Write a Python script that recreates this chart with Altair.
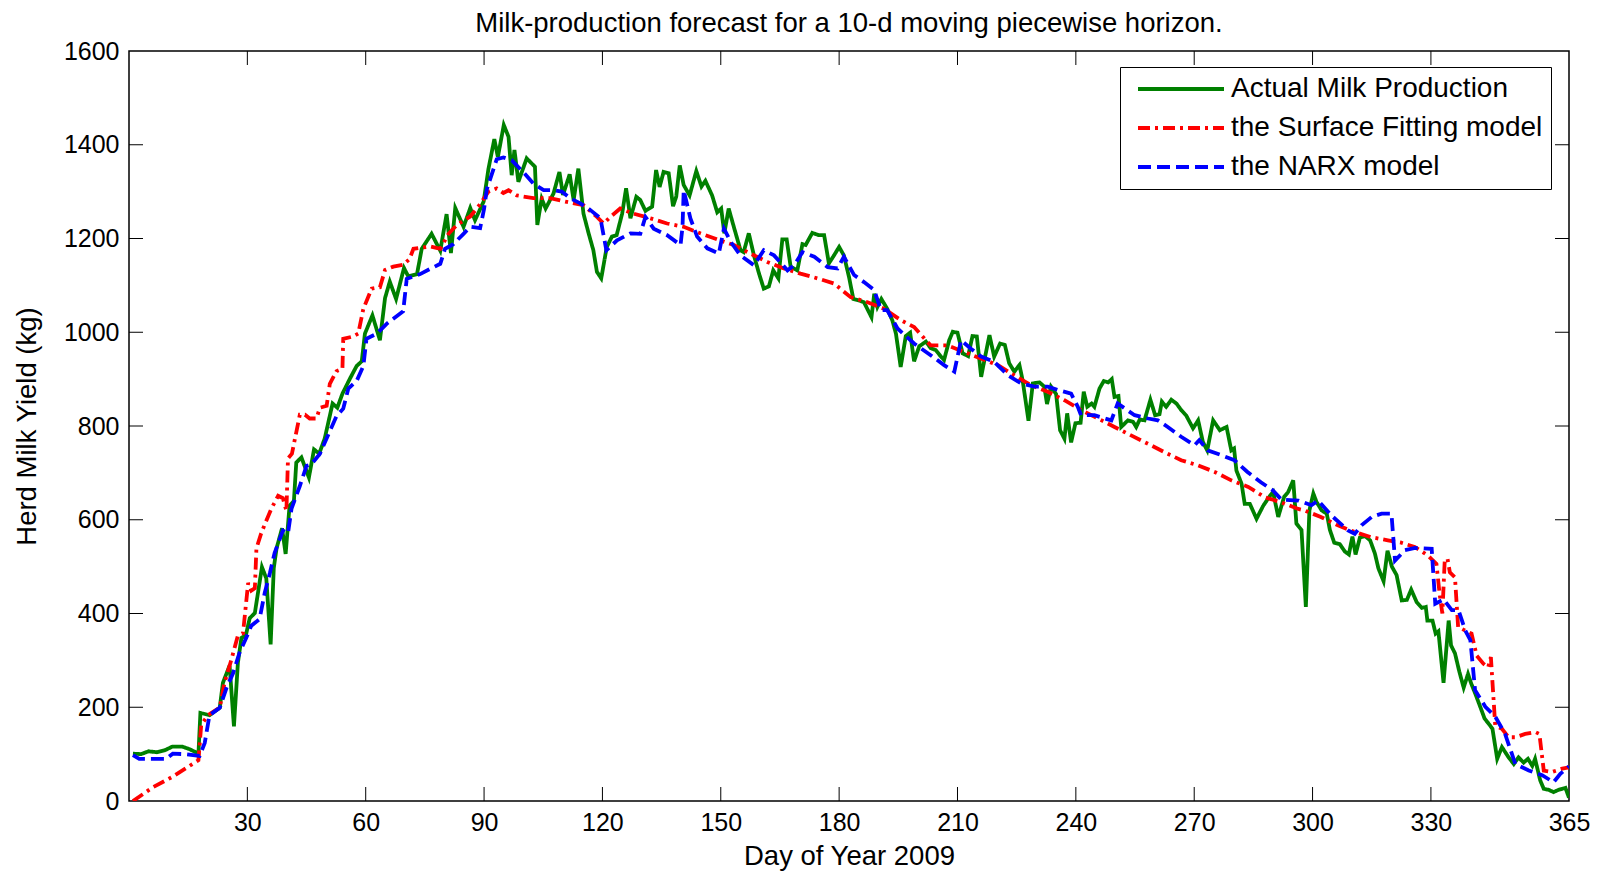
import altair as alt
import pandas as pd

SERIES = ["Actual Milk Production", "the Surface Fitting model", "the NARX model"]
COLORS = ["#008000", "#FF0000", "#0000FF"]
DASHES = [[1, 0], [12, 5, 3, 5], [13, 6]]

ACTUAL_DAY = [1, 3, 5, 7, 9, 11, 13.5, 15.5, 17.6, 18.1, 20.4, 23, 23.8, 25.5, 26.6, 27.6, 28.5, 29.6, 30.6, 31.9,
              33.7, 34.8, 35.9, 36.7, 37.4, 38.8, 39.7, 40.7, 41.8, 42.4, 43.7, 45.6, 46.9, 48.2, 49.6, 51.6, 52.8,
              54.1, 56, 57.7, 59, 59.8, 61.7, 63.6, 64.9, 66.1, 67.7, 69.7, 70.8, 73, 74.2, 76.7, 78.9, 80.5, 81.6,
              82.7, 84.8, 86.5, 87.7, 89.9, 91.1, 92.6, 93.5, 95, 96.2, 97, 97.7, 98.7, 100.8, 102.9, 103.5, 104.6,
              105.6, 107.6, 109.1, 110, 111.7, 112.7, 113.9, 115.2, 116.5, 117.7, 118.6, 119.7, 121.1, 122.4, 123.6,
              125, 126, 127.1, 128.6, 129.6, 130.9, 132.6, 133.6, 134.5, 135.5, 136.8, 137.9, 138.7, 139.6, 140.6,
              142.1, 143.8, 145.1, 146.1, 147.8, 149.1, 150.1, 150.9, 152, 153.3, 155, 155.8, 157.1, 158.4, 159.7,
              160.9, 162.2, 163.3, 164.6, 165.6, 166.7, 167.7, 169.4, 170.7, 171.5, 173.2, 174.9, 176.2, 177.4,
              178.7, 180, 181.2, 182.5, 183.6, 185, 186.3, 188.2, 188.9, 189.7, 190.7, 192.2, 193.5, 194.4, 195.6,
              196.9, 198, 199, 200.3, 202, 203.2, 204.5, 205.8, 206.6, 207.9, 208.8, 210, 211.3, 212.7, 213.8, 214.9,
              216, 217, 218.1, 219.3, 220.8, 222, 223.1, 224.4, 225.7, 226.5, 228, 229.1, 230.8, 232, 232.7, 233.7,
              235, 236, 237.1, 237.8, 238.8, 239.9, 241.2, 242, 242.9, 244, 244.7, 246, 247.1, 248.2, 249.1, 249.8,
              250.8, 251.5, 253.2, 254.5, 255.3, 256.2, 257.4, 258.9, 260.1, 261.2, 261.8, 262.9, 264.2, 265.5,
              266.7, 268, 269.7, 271, 272.2, 273.3, 274.8, 276.5, 278.2, 279.4, 280.1, 280.7, 282, 282.8, 284.1,
              285.8, 287.5, 289.2, 290, 291.3, 292.8, 293.8, 295.1, 295.9, 297.2, 298.3, 299.2, 300.2, 301, 302.3,
              303.6, 304.4, 305.5, 306.9, 308.2, 309.2, 310.1, 310.9, 312, 313.3, 314.6, 315.8, 316.7, 318, 319,
              320.1, 321.3, 322.6, 323.9, 325, 326.4, 327.7, 328.7, 329.1, 330.4, 331.2, 331.9, 333.2, 334.5, 335.1,
              336.1, 337.2, 338.3, 339.4, 340.2, 341.2, 342.5, 343.6, 345, 345.6, 346.8, 348, 349.7, 351, 352.2,
              353.5, 354.6, 355.7, 356.4, 357.7, 358.6, 359.8, 361.1, 362.4, 364.1, 365]
ACTUAL_VAL = [101, 100, 106, 104, 108, 116, 116, 110, 101, 188, 183, 199, 252, 289, 159, 295, 348, 353, 390, 401,
              499, 475, 334, 497, 539, 582, 527, 630, 640, 722, 733, 690, 750, 741, 773, 848, 839,
              869, 901, 928, 938, 997, 1036, 983, 1073, 1108, 1071, 1137, 1119, 1124, 1178, 1210, 1174, 1252, 1169,
              1265, 1225, 1265, 1239, 1279, 1348, 1412, 1374, 1442, 1417, 1335, 1389, 1321, 1371, 1353, 1229, 1285,
              1264, 1296, 1342, 1293, 1337, 1282, 1349, 1253, 1211, 1175, 1129, 1115, 1182, 1204, 1207,
              1253, 1307, 1243, 1289, 1282, 1259, 1268, 1346, 1310, 1342, 1339, 1269, 1289, 1356, 1314,
              1292, 1344, 1311, 1323, 1292, 1256, 1264, 1211, 1264, 1225, 1175, 1171, 1211, 1164, 1125,
              1093, 1098, 1132, 1115, 1198, 1198, 1140, 1132, 1188, 1186, 1212, 1207, 1207, 1147,
              1164, 1182, 1164, 1118, 1071, 1068, 1064, 1032, 1082, 1054, 1071, 1050, 1025, 997, 926,
              992, 999, 938, 970, 980, 966, 962, 948, 941, 983, 1001, 999, 955, 949, 992, 991,
              905, 948, 994, 948, 976, 973, 934, 916, 930, 898, 811, 891, 893, 884, 847, 884,
              868, 791, 773, 827, 765, 806, 807, 873, 841, 848, 841, 880, 896, 893, 900, 862,
              864, 798, 812, 809, 798, 814, 812, 856, 823, 825, 852, 841, 856, 848,
              834, 822, 795, 812, 766, 748, 812, 791, 798, 748, 752, 705, 677, 634, 634,
              602, 630, 651, 659, 606, 649, 659, 684, 592, 578, 414, 620, 656, 638, 620,
              613, 578, 551, 548, 532, 526, 564, 526, 562, 565, 556, 528, 496, 469, 534,
              500, 482, 428, 429, 451, 424, 412, 414, 385, 385, 357, 362, 252, 385, 332,
              315, 276, 242, 271, 251, 230, 201, 176, 161, 154, 90, 115, 93, 79, 93,
              82, 90, 75, 90, 44, 26, 24, 19, 24, 28, 7]

SURF_DAY = [1, 6, 11.1, 17.6, 18.3, 20, 23, 24.2, 25.9, 27.6, 28.9, 30.2, 31, 31.9, 32.3, 33.5, 34.8, 36.1, 37.8,
            39, 39.9, 40.3, 41.3, 43.3, 44.6, 45.8, 47.5, 48.4, 50.1, 50.9, 52.6, 54.1, 54.3, 56.8, 58.1, 59.4,
            61.5, 63.6, 64.9, 67, 69.5, 71.1, 72.1, 76.3, 78.9, 81, 83.1, 86.5, 89, 91.1, 93.2, 94.9, 96.2, 98.3,
            102.5, 106.7, 111, 115.2, 118.6, 120.3, 122, 124.5, 127.9, 132.2, 136.4, 140.6, 144.8, 149.1, 153.3,
            157.5, 161.8, 166, 170.2, 174.5, 178.7, 182.9, 187.2, 191.4, 195.6, 199, 203.2, 207.5, 211.7, 215.9,
            220.2, 224.4, 228.6, 232.9, 237.1, 241.3, 245.6, 249.8, 254, 258.3, 262.5, 266.7, 271, 275.2, 279.4,
            283.7, 287.9, 292.1, 296.4, 297.9, 302.1, 306.4, 310.6, 314.8, 319.1, 322.5, 325.9, 329.2, 331.4,
            332.2, 332.9, 333.5, 334.2, 334.8, 336.1, 336.9, 338.6, 340.3, 341.6, 343.3, 344.5, 345.2, 346.3, 348,
            349.7, 351.4, 353.9, 356.5, 357.5, 358.6, 360.7, 363.3, 365]
SURF_VAL = [0, 29, 52, 87, 162, 183, 199, 252, 300, 353, 358, 465, 449, 454, 539, 571, 598, 624, 651,
            646, 619, 731, 741, 824, 824, 816, 816, 839, 843, 890, 917, 922, 986, 991, 997, 1050,
            1093, 1096, 1133, 1140, 1144, 1156, 1178, 1183, 1178, 1210, 1229, 1247, 1273, 1300, 1307, 1297, 1303,
            1292, 1286, 1286, 1278, 1271, 1246, 1232, 1246, 1264, 1253, 1243, 1232, 1225, 1211, 1198, 1186,
            1168, 1150, 1136, 1125, 1115, 1104, 1075, 1064, 1050, 1026, 1011, 972, 972, 958, 944,
            930, 908, 887, 873, 855, 834, 816, 798, 780, 762, 744, 727, 716, 702, 684,
            670, 648, 637, 623, 620, 606, 588, 574, 563, 556, 551, 542, 524, 506,
            442, 400, 513, 517, 488, 477, 371, 364, 357, 310, 293, 285, 307, 161, 154,
            136, 136, 143, 147, 143, 65, 62, 69, 72]

NARX_DAY = [1, 2.6, 9.4, 11.1, 14.1, 17.9, 19.2, 20.4, 23, 24.7, 26.4, 28, 29.7, 31, 33.1, 34.4, 35.7, 36.9, 39,
            40.3, 41.2, 43.3, 45, 46.2, 48.4, 50.9, 52.6, 54.3, 55.6, 57.7, 59.4, 60.2, 62.8, 65.3, 67, 69.5, 70.4,
            73.8, 76.3, 78.9, 80.1, 82.2, 84.8, 86.5, 89, 90, 90.7, 93.2, 94.9, 97, 100, 102.5, 105.1, 107.6, 109.7,
            111.8, 114.4, 116.9, 119.5, 121, 123.7, 127.1, 129.6, 130.9, 133, 136.4, 139.8, 140.3, 140.6, 142.3,
            144, 146.6, 149.5, 150.8, 152.5, 155, 158.4, 160.9, 163.5, 166.9, 168.6, 170.7, 173.7, 177.1, 179.6,
            181.2, 183.8, 186.3, 188.9, 190.6, 192.2, 194.8, 199, 203.2, 206.6, 209.2, 210.9, 213.4, 216, 219.3,
            222.8, 226.1, 229.5, 232.9, 235.4, 238.8, 240.5, 241.3, 244.7, 249, 250.6, 254.9, 258.3, 260.8, 263.3,
            266.7, 270.1, 271.3, 273.4, 276.8, 280.2, 283.5, 286.9, 289.9, 292.1, 296.4, 299.7, 301.4, 304.8, 309,
            310.7, 312.4, 315, 317.5, 320, 320.9, 323.4, 326, 330.2, 331.1, 333.2, 335.3, 337, 338.7, 340, 341.2,
            343.8, 346.3, 348.8, 351.4, 354.8, 358.2, 361.1, 362.8, 365]
NARX_VAL = [98, 90, 90, 101, 100, 96, 124, 183, 199, 241, 273, 316, 348, 374, 388, 444, 486, 529, 577,
            571, 624, 672, 715, 718, 741, 789, 821, 837, 880, 896, 928, 986, 997, 1018, 1029, 1045, 1114,
            1124, 1135, 1146, 1178, 1188, 1210, 1225, 1222, 1263, 1305, 1369, 1373, 1367, 1341, 1317, 1303, 1303, 1300,
            1286, 1275, 1261, 1243, 1175, 1196, 1211, 1210, 1246, 1221, 1207, 1186, 1225, 1303, 1243,
            1204, 1179, 1168, 1221, 1193, 1164, 1143, 1175, 1164, 1132, 1143, 1171, 1161, 1139, 1136,
            1161, 1122, 1107, 1090, 1047, 1047, 1008, 976, 951, 930, 916, 983, 965, 948, 937,
            908, 891, 884, 884, 877, 869, 841, 823, 823, 812, 848, 823, 816, 812, 798,
            777, 759, 770, 748, 738, 727, 702, 680, 663, 643, 641, 631, 641, 609, 577,
            570, 588, 606, 613, 613, 513, 535, 540, 538, 421, 430, 407, 407, 364, 343, 236,
            201, 180, 143, 79, 65, 55, 40, 58, 74]

X_LABELS = [30, 60, 90, 120, 150, 180, 210, 240, 270, 300, 330, 365]
X_TICKS = [30, 60, 90, 120, 150, 180, 210, 240, 270, 300, 330]
Y_LABELS = [0, 200, 400, 600, 800, 1000, 1200, 1400, 1600]
Y_TICKS = [200, 400, 600, 800, 1000, 1200, 1400]

rows = []
for name, days, vals in [(SERIES[0], ACTUAL_DAY, ACTUAL_VAL), (SERIES[1], SURF_DAY, SURF_VAL),
                         (SERIES[2], NARX_DAY, NARX_VAL)]:
    for i, (d, v) in enumerate(zip(days, vals)):
        rows.append({"series": name, "day": d, "value": v, "order": i})
df = pd.DataFrame(rows)

W, H = 1440, 750
FONT = "Liberation Sans"
TICK = 14

xscale = alt.Scale(domain=[0, 365], nice=False, zero=False)
yscale = alt.Scale(domain=[0, 1600], nice=False)

X_AXIS = alt.Axis(values=X_LABELS, title="Day of Year 2009", grid=False, ticks=False, domain=False,
                  format="d", labelFontSize=25, labelFont=FONT, labelColor="black", labelPadding=9,
                  titleFontSize=27.5, titleFont=FONT, titleFontWeight="normal", titleColor="black",
                  titlePadding=7, labelFlush=False)
Y_AXIS = alt.Axis(values=Y_LABELS, title="Herd Milk Yield (kg)", grid=False, ticks=False, domain=False,
                  format="d", labelFontSize=25, labelFont=FONT, labelColor="black", labelPadding=10,
                  titleFontSize=27.5, titleFont=FONT, titleFontWeight="normal", titleColor="black",
                  titlePadding=22, labelFlush=False)

lines = alt.Chart(df).mark_line(strokeWidth=3.8, clip=True).encode(
    x=alt.X("day:Q", scale=xscale, axis=X_AXIS),
    y=alt.Y("value:Q", scale=yscale, axis=Y_AXIS),
    color=alt.Color("series:N", scale=alt.Scale(domain=SERIES, range=COLORS),
                    legend=alt.Legend(title=None, orient="none", legendX=991, legendY=16,
                                      labelFont=FONT, labelFontSize=28, labelColor="black",
                                      symbolType="M-4.3,0H4.3", symbolSize=400, symbolStrokeWidth=3.8,
                                      padding=8, strokeColor="black", fillColor="white",
                                      symbolOffset=39, labelOffset=36, rowPadding=11, labelLimit=600)),
    strokeDash=alt.StrokeDash("series:N", scale=alt.Scale(domain=SERIES, range=DASHES), legend=None),
    order="order:Q",
    detail="series:N",
)

xt_df = pd.DataFrame({"day": X_TICKS})
yt_df = pd.DataFrame({"value": Y_TICKS})

xt_bottom = alt.Chart(xt_df).mark_rule(color="black", strokeWidth=1).encode(
    x=alt.X("day:Q", scale=xscale, axis=X_AXIS), y=alt.value(H), y2=alt.value(H - TICK))
xt_top = alt.Chart(xt_df).mark_rule(color="black", strokeWidth=1).encode(
    x=alt.X("day:Q", scale=xscale, axis=X_AXIS), y=alt.value(0), y2=alt.value(TICK))
yt_left = alt.Chart(yt_df).mark_rule(color="black", strokeWidth=1).encode(
    y=alt.Y("value:Q", scale=yscale, axis=Y_AXIS), x=alt.value(0), x2=alt.value(TICK))
yt_right = alt.Chart(yt_df).mark_rule(color="black", strokeWidth=1).encode(
    y=alt.Y("value:Q", scale=yscale, axis=Y_AXIS), x=alt.value(W), x2=alt.value(W - TICK))

chart = alt.layer(lines, xt_bottom, xt_top, yt_left, yt_right).properties(
    width=W, height=H,
    title=alt.TitleParams("Milk-production forecast for a 10-d moving piecewise horizon.",
                          font=FONT, fontSize=27.5, fontWeight="normal", color="black",
                          anchor="middle", offset=2),
    padding={"left": 121, "top": 43, "right": 22, "bottom": 72},
    autosize=alt.AutoSizeParams(type="none"),
).configure_view(stroke="black", strokeWidth=1.5)

chart.save("out.html", embed_options={"renderer": "svg", "actions": False})
